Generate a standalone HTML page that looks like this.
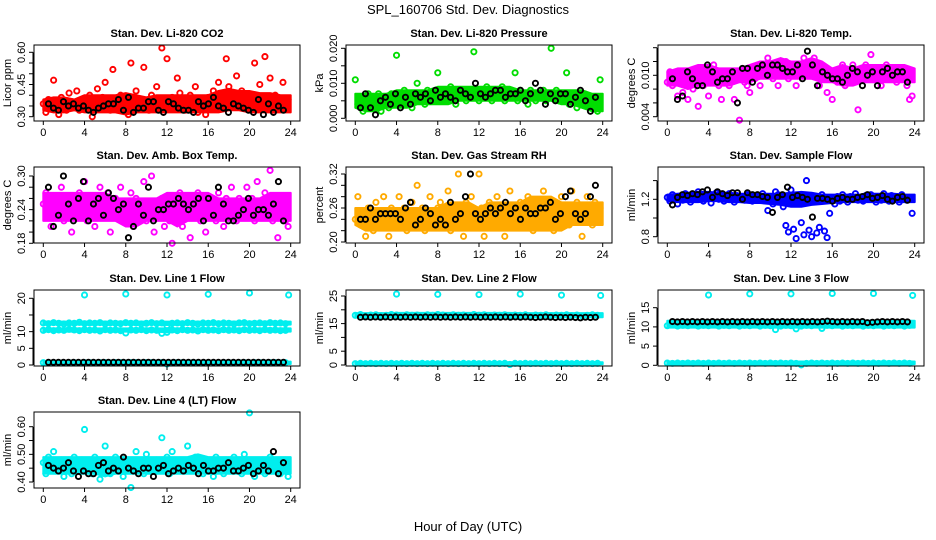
<!DOCTYPE html>
<html><head><meta charset="utf-8"><style>
body{margin:0;background:#fff}
svg{display:block;font-family:"Liberation Sans",sans-serif}
</style></head><body>
<svg id="c" width="936" height="540" viewBox="0 0 936 540">
<text x="468" y="14" font-size="13" text-anchor="middle">SPL_160706  Std. Dev. Diagnostics</text>
<text x="468" y="531" font-size="13" text-anchor="middle">Hour of Day (UTC)</text>
</svg>
<script>
const xTicks=[0,4,8,12,16,20,24];
const co2Main=[0.36,0.32,0.38,0.35,0.47,0.34,0.31,0.39,0.36,0.33,0.41,0.37,0.35,0.42,0.33,0.38,0.36,0.34,0.40,0.30,0.37,0.43,0.35,0.39,0.46,0.36,0.33,0.52,0.38,0.35,0.40,0.34,0.36,0.31,0.55,0.39,0.42,0.35,0.37,0.53,0.36,0.33,0.40,0.38,0.44,0.35,0.62,0.37,0.57,0.34,0.39,0.36,0.48,0.41,0.38,0.33,0.36,0.40,0.35,0.44,0.32,0.38,0.36,0.31,0.39,0.37,0.42,0.35,0.46,0.40,0.38,0.57,0.44,0.41,0.36,0.49,0.39,0.42,0.35,0.38,0.40,0.34,0.55,0.37,0.45,0.39,0.58,0.36,0.48,0.33,0.40,0.37,0.35,0.46,0.34,0.38];
const co2Black=[0.36,0.34,0.33,0.37,0.35,0.36,0.34,0.35,0.33,0.32,0.34,0.35,0.36,0.36,0.38,0.33,0.39,0.32,0.34,0.34,0.37,0.37,0.33,0.32,0.37,0.36,0.34,0.33,0.33,0.32,0.37,0.35,0.36,0.39,0.35,0.34,0.32,0.36,0.35,0.34,0.33,0.32,0.38,0.31,0.36,0.32,0.35,0.33];
const co2Lo=[0.33,0.32,0.32,0.33,0.32,0.32,0.32,0.32,0.31,0.32,0.32,0.32,0.32,0.32,0.32,0.32,0.32,0.32,0.33,0.33,0.32,0.32,0.32,0.32,0.32];
const co2Hi=[0.38,0.39,0.39,0.38,0.40,0.40,0.40,0.40,0.41,0.40,0.39,0.40,0.40,0.40,0.40,0.40,0.40,0.42,0.43,0.42,0.42,0.41,0.41,0.40,0.40];
const presMain=[0.011,0.004,0.006,0.002,0.005,0.007,0.003,0.006,0.004,0.007,0.002,0.005,0.006,0.003,0.007,0.005,0.018,0.004,0.006,0.008,0.005,0.007,0.003,0.006,0.010,0.005,0.007,0.004,0.008,0.006,0.005,0.007,0.013,0.006,0.008,0.005,0.007,0.009,0.006,0.004,0.008,0.006,0.007,0.005,0.008,0.006,0.019,0.007,0.005,0.008,0.006,0.009,0.007,0.005,0.008,0.006,0.007,0.009,0.005,0.008,0.006,0.007,0.013,0.005,0.008,0.006,0.007,0.004,0.008,0.006,0.005,0.007,0.006,0.008,0.005,0.007,0.020,0.006,0.008,0.005,0.007,0.006,0.013,0.004,0.006,0.007,0.003,0.006,0.005,0.007,0.004,0.006,0.003,0.005,0.002,0.011];
const presBlack=[0.003,0.007,0.003,0.001,0.005,0.006,0.004,0.007,0.003,0.006,0.004,0.007,0.006,0.007,0.005,0.008,0.006,0.007,0.006,0.005,0.008,0.007,0.006,0.010,0.007,0.006,0.007,0.008,0.008,0.006,0.007,0.007,0.008,0.005,0.007,0.010,0.008,0.004,0.007,0.005,0.007,0.007,0.004,0.006,0.008,0.005,0.002,0.006];
const presLo=[0.003,0.002,0.002,0.003,0.003,0.003,0.004,0.004,0.004,0.004,0.005,0.005,0.005,0.005,0.005,0.005,0.005,0.005,0.005,0.005,0.004,0.004,0.003,0.002,0.002];
const presHi=[0.007,0.007,0.007,0.007,0.008,0.008,0.008,0.008,0.009,0.009,0.009,0.009,0.009,0.009,0.009,0.009,0.008,0.008,0.008,0.008,0.008,0.008,0.008,0.007,0.007];
const tempMain=[0.009,0.0105,0.0085,0.0095,0.007,0.010,0.0075,0.009,0.0065,0.0095,0.008,0.010,0.0055,0.009,0.0085,0.0105,0.007,0.0095,0.0115,0.009,0.0085,0.0065,0.010,0.0095,0.0085,0.0105,0.0065,0.0095,0.0035,0.0105,0.009,0.0085,0.0075,0.010,0.0095,0.0105,0.0085,0.0115,0.010,0.0125,0.0105,0.0095,0.011,0.0085,0.0115,0.0105,0.012,0.0095,0.011,0.0105,0.0085,0.0115,0.010,0.0125,0.0105,0.011,0.0115,0.0125,0.010,0.0085,0.0095,0.011,0.0075,0.0095,0.0065,0.0105,0.009,0.0095,0.0115,0.0085,0.010,0.0095,0.0115,0.0105,0.0050,0.0095,0.010,0.0115,0.0105,0.013,0.0095,0.011,0.0105,0.0085,0.010,0.0115,0.011,0.0095,0.0105,0.009,0.011,0.0095,0.010,0.0085,0.0065,0.007];
const tempBlack=[0.0095,0.0065,0.007,0.0105,0.0095,0.0085,0.0085,0.0115,0.0105,0.009,0.0095,0.0095,0.0105,0.006,0.011,0.011,0.009,0.011,0.0115,0.010,0.0115,0.0115,0.011,0.0105,0.0105,0.0115,0.0095,0.0135,0.0115,0.0085,0.0105,0.0100,0.0095,0.0095,0.009,0.010,0.011,0.0105,0.0085,0.010,0.0105,0.0085,0.0105,0.011,0.010,0.0105,0.0105,0.009];
const tempLo=[0.0085,0.0085,0.008,0.0085,0.0085,0.0085,0.0085,0.009,0.009,0.0095,0.0095,0.0095,0.0095,0.0095,0.0095,0.009,0.009,0.0085,0.0085,0.009,0.009,0.009,0.009,0.009,0.009];
const tempHi=[0.0105,0.011,0.011,0.0115,0.0115,0.011,0.011,0.011,0.0115,0.012,0.012,0.0125,0.012,0.012,0.0125,0.012,0.011,0.0115,0.011,0.0115,0.0115,0.0115,0.0115,0.0115,0.011];
const ambMain=[0.25,0.27,0.24,0.21,0.26,0.23,0.25,0.28,0.22,0.24,0.26,0.20,0.25,0.23,0.27,0.24,0.29,0.22,0.25,0.26,0.21,0.24,0.28,0.23,0.25,0.27,0.20,0.24,0.26,0.23,0.28,0.22,0.25,0.24,0.27,0.21,0.26,0.23,0.25,0.29,0.22,0.24,0.30,0.20,0.25,0.23,0.26,0.21,0.24,0.22,0.18,0.25,0.23,0.27,0.21,0.24,0.26,0.19,0.25,0.23,0.27,0.22,0.24,0.20,0.26,0.23,0.25,0.22,0.27,0.24,0.21,0.26,0.23,0.28,0.24,0.22,0.26,0.25,0.23,0.28,0.24,0.26,0.22,0.29,0.25,0.23,0.27,0.24,0.31,0.22,0.25,0.19,0.26,0.24,0.22,0.21];
const ambBlack=[0.28,0.21,0.23,0.30,0.25,0.22,0.26,0.29,0.22,0.25,0.26,0.23,0.27,0.26,0.24,0.25,0.19,0.21,0.25,0.23,0.28,0.22,0.24,0.24,0.25,0.25,0.26,0.25,0.24,0.25,0.26,0.22,0.26,0.23,0.28,0.25,0.22,0.22,0.23,0.24,0.26,0.23,0.24,0.24,0.23,0.25,0.29,0.22];
const ambLo=[0.22,0.22,0.22,0.22,0.22,0.22,0.22,0.22,0.21,0.21,0.22,0.22,0.22,0.21,0.22,0.22,0.22,0.22,0.22,0.22,0.22,0.22,0.22,0.22,0.22];
const ambHi=[0.27,0.27,0.27,0.27,0.27,0.27,0.27,0.26,0.26,0.26,0.26,0.26,0.27,0.27,0.27,0.27,0.27,0.26,0.26,0.26,0.26,0.26,0.27,0.27,0.27];
const rhMain=[0.24,0.28,0.23,0.25,0.21,0.26,0.24,0.22,0.27,0.25,0.23,0.28,0.24,0.21,0.26,0.25,0.23,0.28,0.24,0.26,0.22,0.25,0.27,0.23,0.30,0.24,0.26,0.22,0.25,0.28,0.23,0.24,0.26,0.27,0.23,0.25,0.29,0.22,0.24,0.26,0.32,0.25,0.21,0.27,0.24,0.28,0.23,0.25,0.32,0.26,0.21,0.24,0.27,0.25,0.23,0.28,0.24,0.26,0.21,0.25,0.29,0.23,0.26,0.24,0.27,0.25,0.23,0.28,0.26,0.22,0.25,0.27,0.23,0.29,0.25,0.24,0.27,0.22,0.26,0.25,0.28,0.24,0.26,0.23,0.29,0.25,0.27,0.24,0.21,0.26,0.28,0.25,0.23,0.27,0.24,0.26];
const rhBlack=[0.24,0.24,0.26,0.24,0.25,0.25,0.25,0.25,0.24,0.26,0.27,0.23,0.24,0.26,0.25,0.23,0.24,0.23,0.27,0.24,0.25,0.28,0.32,0.25,0.24,0.25,0.26,0.25,0.26,0.27,0.25,0.26,0.24,0.26,0.25,0.25,0.26,0.26,0.27,0.24,0.25,0.28,0.29,0.25,0.24,0.25,0.28,0.30];
const rhLo=[0.23,0.22,0.22,0.22,0.22,0.22,0.22,0.22,0.22,0.22,0.22,0.22,0.22,0.22,0.22,0.22,0.22,0.22,0.22,0.22,0.22,0.23,0.23,0.23,0.23];
const rhHi=[0.26,0.26,0.26,0.26,0.26,0.26,0.26,0.26,0.26,0.27,0.27,0.27,0.26,0.27,0.27,0.27,0.27,0.28,0.28,0.28,0.27,0.27,0.27,0.27,0.27];
const flowMain=[1.22,1.18,1.25,1.20,1.15,1.23,1.19,1.26,1.21,1.17,1.24,1.20,1.28,1.22,1.18,1.25,1.21,1.16,1.23,1.27,1.20,1.24,1.18,1.22,1.26,1.21,1.17,1.24,1.20,1.23,1.19,1.25,1.21,1.18,1.24,1.20,1.22,1.26,1.19,1.08,1.23,1.15,1.28,1.25,1.20,1.12,0.92,0.85,1.30,0.88,0.78,1.22,0.95,0.82,1.40,0.87,0.80,1.18,0.84,0.90,1.25,0.86,0.79,1.05,1.20,1.15,1.23,1.18,1.25,1.20,1.17,1.23,1.21,1.26,1.19,1.22,1.18,1.24,1.20,1.25,1.21,1.17,1.23,1.19,1.26,1.22,1.18,1.24,1.20,1.23,1.17,1.25,1.21,1.19,1.22,1.05];
const flowBlack=[1.14,1.22,1.25,1.24,1.26,1.25,1.28,1.30,1.22,1.28,1.26,1.24,1.27,1.27,1.20,1.27,1.25,1.25,1.23,1.22,1.06,1.22,1.25,1.33,1.22,1.24,1.22,1.20,1.01,1.21,1.21,1.20,1.18,1.21,1.22,1.20,1.20,1.22,1.23,1.25,1.21,1.22,1.24,1.20,1.18,1.22,1.23,1.19];
const flowLo=[1.18,1.17,1.17,1.17,1.18,1.18,1.17,1.17,1.16,1.16,1.15,1.14,1.12,1.12,1.14,1.15,1.16,1.17,1.17,1.17,1.17,1.17,1.17,1.17,1.17];
const flowHi=[1.25,1.26,1.27,1.28,1.28,1.27,1.27,1.26,1.26,1.26,1.26,1.26,1.27,1.28,1.27,1.25,1.25,1.25,1.25,1.25,1.26,1.26,1.26,1.25,1.25];
const spikeHours=[4,8,12,16,20,23.8];
const l1Upper=[12.6,12.4,12.7,12.5,12.3,12.6,12.5,12.8,12.4,12.6,12.5,12.7,12.3,12.6,12.5,12.4,12.7,12.5,12.6,12.3,12.5,12.7,12.4,12.6,11.8,12.5,12.6,12.4,12.7,12.5,12.3,12.6,12.5,12.7,12.4,12.6,12.5,12.3,12.6,12.7,12.4,12.5,12.6,12.4,12.7,12.5,12.6,12.4];
const l1Lower=[10.4,10.6,10.3,10.5,10.4,10.7,10.5,10.3,10.6,10.4,10.5,10.2,10.6,10.4,10.5,10.3,9.6,10.5,10.4,10.6,10.3,10.5,10.4,9.5,9.8,10.5,10.3,10.6,10.4,10.5,10.2,10.6,10.4,10.5,10.3,10.6,10.4,10.5,10.3,10.6,10.4,10.5,10.3,10.6,10.4,10.5,10.3,10.4];
const l1Base=[0.7,0.6,0.7,0.7,0.6,0.7,0.7,0.6,0.7,0.7,0.6,0.7,0.7,0.6,0.7,0.7,0.6,0.7,0.7,0.6,0.7,0.7,0.6,0.7,0.3,0.6,0.7,0.7,0.6,0.7,0.7,0.6,0.7,0.7,0.6,0.7,0.7,0.6,0.7,0.7,0.6,0.7,0.7,0.6,0.7,0.7,0.6,0.7];
const l1Black=[0.8,0.8,0.8,0.8,0.8,0.8,0.8,0.8,0.8,0.8,0.8,0.8,0.8,0.8,0.8,0.8,0.8,0.8,0.8,0.8,0.8,0.8,0.8,0.8,0.8,0.8,0.8,0.8,0.8,0.8,0.8,0.8,0.8,0.8,0.8,0.8,0.8,0.8,0.8,0.8,0.8,0.8,0.8,0.8,0.8,0.8,0.8,0.8];
const l1Spikes=[21,21.3,21,21.2,21.6,21];
const l1UpLo=[12.1,12.1,12.1,12.1,12.1,12.1,12.1,12.1,12.1,12.1,12.1,12.1,12.0,12.1,12.1,12.1,12.1,12.1,12.1,12.1,12.1,12.1,12.1,12.1,12.1];
const l1UpHi=[13.0,13.0,13.0,13.0,13.0,13.0,13.0,13.0,13.0,13.0,13.0,13.0,13.0,13.0,13.0,13.0,13.0,13.0,13.0,13.0,13.0,13.0,13.0,13.0,13.0];
const l1LwLo=[10.0,10.0,10.0,10.0,10.0,10.0,10.0,10.0,10.0,10.0,10.0,10.0,9.8,10.0,10.0,10.0,10.0,10.0,10.0,10.0,10.0,10.0,10.0,10.0,10.0];
const l1LwHi=[11.0,11.0,11.0,11.0,11.0,11.0,11.0,11.0,11.0,11.0,11.0,11.0,11.0,11.0,11.0,11.0,11.0,11.0,11.0,11.0,11.0,11.0,11.0,11.0,11.0];
const baseLo=[0.3,0.3,0.3,0.3,0.3,0.3,0.3,0.3,0.3,0.3,0.3,0.3,0.3,0.3,0.3,0.3,0.3,0.3,0.3,0.3,0.3,0.3,0.3,0.3,0.3];
const baseHi=[1.0,1.0,1.0,1.0,1.0,1.0,1.0,1.0,1.0,1.0,1.0,1.0,1.0,1.0,1.0,1.0,1.0,1.0,1.0,1.0,1.0,1.0,1.0,1.0,1.0];
const l2Upper=[18.0,18.3,17.8,18.1,18.2,17.9,18.0,18.3,18.1,17.9,18.2,18.0,18.1,17.8,18.2,18.0,18.3,18.1,17.9,18.2,18.0,18.1,17.8,18.3,18.0,18.2,17.9,18.1,18.0,18.2,17.9,18.1,18.0,18.2,17.8,18.1,18.0,18.2,17.9,18.1,18.0,18.2,17.9,18.1,17.8,18.0,18.2,18.0];
const l2Base=[0.5,0.6,0.5,0.6,0.5,0.6,0.5,0.6,0.5,0.6,0.5,0.6,0.5,0.6,0.5,0.6,0.5,0.6,0.5,0.6,0.5,0.6,0.5,0.6,0.5,0.6,0.5,0.6,0.5,0.6,0.2,0.6,0.5,0.6,0.5,0.6,0.5,0.6,0.5,0.6,0.5,0.6,0.5,0.6,0.5,0.6,0.5,0.6];
const l2Black=[17.3,17.4,17.3,17.4,17.3,17.4,17.3,17.4,17.3,17.4,17.3,17.4,17.3,17.4,17.3,17.4,17.3,17.4,17.3,17.4,17.3,17.4,17.3,17.4,17.3,17.4,17.3,17.4,17.3,17.4,17.3,17.4,17.3,17.4,17.3,17.2,17.3,17.4,17.3,17.2,17.3,17.2,17.3,17.2,17.1,17.3,17.2,17.3];
const l2Spikes=[25.7,25.6,25.5,25.7,25.3,25.2];
const l2UpLo=[17.3,17.3,17.3,17.3,17.3,17.3,17.3,17.3,17.3,17.3,17.3,17.3,17.3,17.3,17.3,17.3,17.3,17.3,17.3,17.3,17.3,17.3,17.3,17.3,17.3];
const l2UpHi=[18.8,18.8,18.8,18.8,18.9,18.9,18.9,18.9,18.9,18.9,18.9,18.9,18.9,18.9,18.9,18.9,18.8,18.8,18.8,18.8,18.8,18.8,18.8,18.8,18.8];
const l3Upper=[10.3,10.5,10.2,10.4,10.3,10.5,10.2,10.4,10.3,10.5,10.2,10.4,10.3,10.5,10.2,10.4,10.3,10.5,10.2,10.4,10.3,9.3,10.2,10.4,10.3,9.5,10.2,10.4,10.3,10.5,9.6,10.4,10.3,10.5,10.2,10.4,10.3,10.5,10.2,10.4,10.3,10.5,10.2,10.4,10.3,10.5,10.2,10.4];
const l3Base=[0.6,0.5,0.6,0.5,0.6,0.5,0.6,0.5,0.6,0.5,0.6,0.5,0.6,0.5,0.6,0.5,0.6,0.5,0.6,0.5,0.6,0.5,0.6,0.5,0.6,0.5,0.1,0.5,0.6,0.5,0.6,0.5,0.6,0.5,0.6,0.5,0.6,0.5,0.6,0.5,0.6,0.5,0.6,0.5,0.6,0.5,0.6,0.5];
const l3Black=[11.4,11.3,11.4,11.3,11.4,11.3,11.4,11.3,11.4,11.3,11.4,11.3,11.4,11.3,11.4,11.3,11.4,11.3,11.4,11.3,11.4,11.3,11.4,11.3,11.4,11.3,11.4,11.3,11.4,11.3,11.4,11.5,11.4,11.3,11.4,11.3,11.4,11.3,11.4,11.1,11.2,11.3,11.4,11.3,11.4,11.3,11.4,11.3];
const l3Spikes=[18.3,18.6,18.6,18.7,18.7,18.2];
const l3UpLo=[9.8,9.8,9.8,9.8,9.8,9.8,9.8,9.8,9.8,9.8,9.8,9.8,9.8,9.8,9.8,9.8,9.8,9.8,9.8,9.8,9.8,9.8,9.8,9.8,9.8];
const l3UpHi=[11.6,11.6,11.6,11.6,11.6,11.6,11.6,11.6,11.6,11.6,11.6,11.6,11.6,11.6,11.6,11.6,11.6,11.6,11.6,11.6,11.6,11.6,11.6,11.6,11.6];
const l4Main=[0.47,0.43,0.49,0.45,0.51,0.44,0.46,0.48,0.42,0.47,0.45,0.43,0.49,0.46,0.44,0.48,0.59,0.45,0.47,0.43,0.49,0.46,0.41,0.48,0.53,0.45,0.43,0.47,0.49,0.44,0.46,0.42,0.48,0.45,0.38,0.47,0.51,0.44,0.46,0.43,0.50,0.45,0.47,0.44,0.48,0.46,0.56,0.45,0.49,0.43,0.51,0.46,0.44,0.48,0.45,0.47,0.53,0.44,0.46,0.49,0.45,0.47,0.43,0.48,0.44,0.46,0.42,0.49,0.45,0.47,0.43,0.48,0.46,0.44,0.49,0.45,0.47,0.43,0.50,0.46,0.65,0.44,0.42,0.47,0.45,0.48,0.43,0.46,0.49,0.44,0.47,0.45,0.43,0.46,0.48,0.42];
const l4Black=[0.46,0.45,0.44,0.45,0.47,0.44,0.42,0.44,0.43,0.43,0.46,0.47,0.44,0.45,0.44,0.49,0.45,0.44,0.43,0.45,0.45,0.42,0.45,0.46,0.43,0.44,0.45,0.44,0.46,0.45,0.43,0.46,0.44,0.44,0.45,0.45,0.47,0.44,0.44,0.45,0.46,0.43,0.44,0.46,0.44,0.51,0.43,0.47];
const l4Lo=[0.43,0.43,0.43,0.43,0.43,0.43,0.42,0.43,0.43,0.43,0.43,0.43,0.43,0.43,0.43,0.43,0.43,0.43,0.43,0.43,0.43,0.43,0.43,0.43,0.43];
const l4Hi=[0.49,0.49,0.49,0.49,0.49,0.49,0.49,0.49,0.49,0.49,0.49,0.49,0.49,0.49,0.49,0.50,0.49,0.49,0.49,0.49,0.49,0.49,0.49,0.49,0.49];

const NS='http://www.w3.org/2000/svg';
const svg=document.getElementById('c');
function mk(tag,attrs,parent){const e=document.createElementNS(NS,tag);for(const k in attrs)e.setAttribute(k,attrs[k]);(parent||svg).appendChild(e);return e;}
const colL=[34,346,658], rowT=[45,167,290,412];
function panel(o){
  const l=colL[o.col], t=rowT[o.row], r=l+266, b=t+76;
  const g=mk('g',{});
  
  
  const xs=h=>l+9.3+(h/24)*(266-18.6);
  const ys=v=>o.p0+(v-o.v0)/(o.v1-o.v0)*(o.p1-o.p0);
  const tt=mk('text',{x:(l+r)/2,y:t-8,'font-size':11,'font-weight':'bold','text-anchor':'middle'},g);
  tt.textContent=o.title;
  
  
  const yt=mk('text',{x:0,y:0,'font-size':11,'text-anchor':'middle',transform:`translate(${l-23},${(t+b)/2}) rotate(-90)`},g);
  yt.textContent=o.ylab;
  
  
  (o.bands||[]).forEach(bd=>{
    const top=bd.hi.map((v,i)=>`${xs(i*24/(bd.hi.length-1))},${ys(v)}`);
    const bot=bd.lo.map((v,i)=>`${xs(i*24/(bd.lo.length-1))},${ys(v)}`).reverse();
    const p=mk('polygon',{points:top.concat(bot).join(' '),fill:bd.c,stroke:bd.c,'stroke-width':2,'stroke-linejoin':'round'},g);
    
    
  });
  function pts(vals,color,hours){
    vals.forEach((v,i)=>{
      const h=hours?hours[i]:(i*24/vals.length);
      const c=mk('circle',{cx:xs(h),cy:ys(v),r:2.6,fill:'none',stroke:color,'stroke-width':1.9},g);
      
      
    });
  }
  const blackHours=[];for(let j=0;j<48;j++)blackHours.push(0.5+j*0.485);
  o.series.forEach(s=>pts(s.v,s.c,s.spike?spikeHours:(s.black?blackHours:null)));
  const box=mk('rect',{x:l,y:t,width:r-l,height:b-t,fill:'none',stroke:'#000','stroke-width':1},g);
  
  
  mk('line',{x1:xs(0),x2:xs(24),y1:b,y2:b,stroke:'#000'},g);
  xTicks.forEach(h=>{
    mk('line',{x1:xs(h),x2:xs(h),y1:b,y2:b+4,stroke:'#000'},g);
    const tx=mk('text',{x:xs(h),y:b+15,'font-size':11,'text-anchor':'middle'},g);
    tx.textContent=h;
    
    
  });
  mk('line',{x1:l-1,x2:l-1,y1:ys(o.ticks[0]),y2:ys(o.ticks[o.ticks.length-1]),stroke:'#000'},g);
  o.ticks.forEach(v=>mk('line',{x1:l-5,x2:l-1,y1:ys(v),y2:ys(v),stroke:'#000'},g));
  o.labels.forEach(s=>{
    const ty=mk('text',{x:0,y:0,'font-size':11,'text-anchor':'middle',transform:`translate(${l-9},${ys(parseFloat(s))}) rotate(-90)`},g);
    ty.textContent=s;
    
    
  });
}
const R='#ff0000',G='#00dd00',M='#ff00ff',O='#ffaa00',B='#0000ff',C='#00eeee',K='#000000';
panel({name:'panel-co2',col:0,row:0,title:'Stan. Dev. Li-820 CO2',ylab:'Licor ppm',v0:0.30,p0:116.7,v1:0.60,p1:52.3,ticks:[0.30,0.35,0.40,0.45,0.50,0.55,0.60],labels:['0.30','0.45','0.60'],bands:[{lo:co2Lo,hi:co2Hi,c:R}],series:[{v:co2Main,c:R},{v:co2Black,c:K,black:1}]});
panel({name:'panel-pressure',col:1,row:0,title:'Stan. Dev. Li-820 Pressure',ylab:'kPa',v0:0,p0:118.3,v1:0.02,p1:48.3,ticks:[0,0.005,0.01,0.015,0.02],labels:['0.000','0.010','0.020'],bands:[{lo:presLo,hi:presHi,c:G}],series:[{v:presMain,c:G},{v:presBlack,c:K,black:1}]});
panel({name:'panel-temp',col:2,row:0,title:'Stan. Dev. Li-820 Temp.',ylab:'degrees C',v0:0.004,p0:116.7,v1:0.014,p1:47.7,ticks:[0.004,0.006,0.008,0.010,0.012,0.014],labels:['0.004','0.010'],bands:[{lo:tempLo,hi:tempHi,c:M}],series:[{v:tempMain,c:M},{v:tempBlack,c:K,black:1}]});
panel({name:'panel-amb-box-temp',col:0,row:1,title:'Stan. Dev. Amb. Box Temp.',ylab:'degrees C',v0:0.18,p0:243.3,v1:0.30,p1:176,ticks:[0.18,0.20,0.22,0.24,0.26,0.28,0.30],labels:['0.18','0.24','0.30'],bands:[{lo:ambLo,hi:ambHi,c:M}],series:[{v:ambMain,c:M},{v:ambBlack,c:K,black:1}]});
panel({name:'panel-gas-rh',col:1,row:1,title:'Stan. Dev. Gas Stream RH',ylab:'percent',v0:0.20,p0:242,v1:0.32,p1:174,ticks:[0.20,0.22,0.24,0.26,0.28,0.30,0.32],labels:['0.20','0.26','0.32'],bands:[{lo:rhLo,hi:rhHi,c:O}],series:[{v:rhMain,c:O},{v:rhBlack,c:K,black:1}]});
panel({name:'panel-sample-flow',col:2,row:1,title:'Stan. Dev. Sample Flow',ylab:'ml/min',v0:0.8,p0:236.7,v1:1.2,p1:199.3,ticks:[0.8,1.0,1.2,1.4],labels:['0.8','1.2'],bands:[{lo:flowLo,hi:flowHi,c:B}],series:[{v:flowMain,c:B},{v:flowBlack,c:K,black:1}]});
panel({name:'panel-line1-flow',col:0,row:2,title:'Stan. Dev. Line 1 Flow',ylab:'ml/min',v0:0,p0:365,v1:20,p1:298.3,ticks:[0,5,10,15,20],labels:['0','5','10','20'],bands:[{lo:l1UpLo,hi:l1UpHi,c:C},{lo:l1LwLo,hi:l1LwHi,c:C},{lo:baseLo,hi:baseHi,c:C}],series:[{v:l1Upper,c:C},{v:l1Lower,c:C},{v:l1Base,c:C},{v:l1Spikes,c:C,spike:1},{v:l1Black,c:K,black:1}]});
panel({name:'panel-line2-flow',col:1,row:2,title:'Stan. Dev. Line 2 Flow',ylab:'ml/min',v0:0,p0:365,v1:25,p1:296,ticks:[0,5,10,15,20,25],labels:['0','5','15','25'],bands:[{lo:l2UpLo,hi:l2UpHi,c:C},{lo:baseLo,hi:baseHi,c:C}],series:[{v:l2Upper,c:C},{v:l2Base,c:C},{v:l2Spikes,c:C,spike:1},{v:l2Black,c:K,black:1}]});
panel({name:'panel-line3-flow',col:2,row:2,title:'Stan. Dev. Line 3 Flow',ylab:'ml/min',v0:0,p0:365.3,v1:15,p1:307.7,ticks:[0,5,10,15],labels:['0','5','10','15'],bands:[{lo:l3UpLo,hi:l3UpHi,c:C},{lo:baseLo,hi:baseHi,c:C}],series:[{v:l3Upper,c:C},{v:l3Base,c:C},{v:l3Spikes,c:C,spike:1},{v:l3Black,c:K,black:1}]});
panel({name:'panel-line4-flow',col:0,row:3,title:'Stan. Dev. Line 4 (LT) Flow',ylab:'ml/min',v0:0.40,p0:482,v1:0.60,p1:426.7,ticks:[0.40,0.45,0.50,0.55,0.60],labels:['0.40','0.50','0.60'],bands:[{lo:l4Lo,hi:l4Hi,c:C}],series:[{v:l4Main,c:C},{v:l4Black,c:K,black:1}]});
</script>
</body></html>
